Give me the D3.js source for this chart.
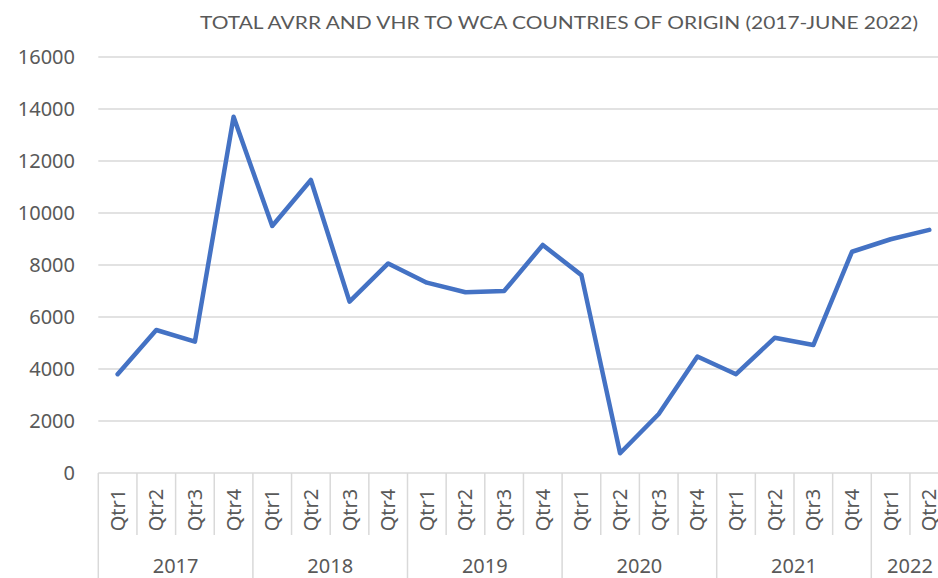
<!DOCTYPE html>
<html>
<head>
<meta charset="utf-8">
<script src="https://cdn.jsdelivr.net/npm/d3@7"></script>
<style>
  body { margin: 0; background: #fff; }
  svg { display: block; font-family: "Noto Sans", "Open Sans", sans-serif; }
</style>
</head>
<body>
<svg width="938" height="578"></svg>
<script>
var years = ["2017", "2018", "2019", "2020", "2021", "2022"];
var quarters = ["Qtr1", "Qtr2", "Qtr3", "Qtr4"];
var periods = [
  "2017-Qtr1", "2017-Qtr2", "2017-Qtr3", "2017-Qtr4",
  "2018-Qtr1", "2018-Qtr2", "2018-Qtr3", "2018-Qtr4",
  "2019-Qtr1", "2019-Qtr2", "2019-Qtr3", "2019-Qtr4",
  "2020-Qtr1", "2020-Qtr2", "2020-Qtr3", "2020-Qtr4",
  "2021-Qtr1", "2021-Qtr2", "2021-Qtr3", "2021-Qtr4",
  "2022-Qtr1", "2022-Qtr2"
];
var returns = [
  3800, 5500, 5050, 13700,
  9500, 11270, 6590, 8060,
  7320, 6950, 7000, 8770,
  7610, 760, 2270, 4480,
  3800, 5200, 4920, 8510,
  8990, 9350
];
var yTicks = [0, 2000, 4000, 6000, 8000, 10000, 12000, 14000, 16000];
var title = "TOTAL AVRR AND VHR TO WCA COUNTRIES OF ORIGIN (2017-JUNE 2022)";

var plotL = 98.3, plotR = 948.6, plotT = 57, plotB = 473;
var grey = "#595959", lineGrey = "#d9d9d9";

var svg = d3.select("svg");

var x = d3.scaleBand().domain(periods).range([plotL, plotR]);
var y = d3.scaleLinear().domain([0, 16000]).range([plotB, plotT]);

// title
svg.append("text")
  .attr("x", 200).attr("y", 29)
  .attr("textLength", 718).attr("lengthAdjust", "spacingAndGlyphs")
  .style("font-family", "Lato, sans-serif")
  .style("font-size", "18px")
  .attr("fill", grey)
  .text(title);

// gridlines
svg.append("g").selectAll("line")
  .data(yTicks.filter(function(d){ return d > 0; }))
  .enter().append("line")
  .attr("x1", plotL).attr("x2", 938)
  .attr("y1", function(d){ return y(d); })
  .attr("y2", function(d){ return y(d); })
  .attr("stroke", lineGrey).attr("stroke-width", 1.5);

// y axis labels
var yAxis = svg.append("g")
  .attr("transform", "translate(75,0)")
  .call(d3.axisLeft(y).tickValues(yTicks).tickSize(0).tickPadding(0).tickFormat(d3.format("d")));
yAxis.select(".domain").remove();
yAxis.selectAll("text")
  .style("font-size", "20px")
  .style("font-family", "'Noto Sans', sans-serif")
  .attr("fill", grey);

// x axis line
svg.append("line")
  .attr("x1", plotL).attr("x2", 938)
  .attr("y1", plotB).attr("y2", plotB)
  .attr("stroke", lineGrey).attr("stroke-width", 1.5);

// quarter separators
svg.append("g").selectAll("line")
  .data(periods)
  .enter().append("line")
  .attr("x1", function(d){ return x(d); })
  .attr("x2", function(d){ return x(d); })
  .attr("y1", plotB)
  .attr("y2", function(d){ return d.slice(5) == "Qtr1" ? 578 : 535; })
  .attr("stroke", lineGrey).attr("stroke-width", 1.5);

// quarter labels
svg.append("g").selectAll("text")
  .data(periods)
  .enter().append("text")
  .attr("transform", function(d){
    return "translate(" + (x(d) + x.bandwidth()/2 + 7) + ",510) rotate(-90)";
  })
  .attr("text-anchor", "middle")
  .style("font-size", "20px")
  .attr("fill", grey)
  .text(function(d){ return d.slice(5); });

// year labels
svg.append("g").selectAll("text")
  .data(years)
  .enter().append("text")
  .attr("x", function(yr){
    var ps = periods.filter(function(p){ return p.slice(0,4) == yr; });
    return (x(ps[0]) + x(ps[ps.length-1]) + x.bandwidth()) / 2;
  })
  .attr("y", 573)
  .attr("text-anchor", "middle")
  .style("font-size", "20px")
  .attr("fill", grey)
  .text(function(d){ return d; });

// line
var line = d3.line()
  .x(function(d, i){ return x(periods[i]) + x.bandwidth()/2; })
  .y(function(d){ return y(d); });

svg.append("path")
  .datum(returns)
  .attr("d", line)
  .attr("fill", "none")
  .attr("stroke", "#4472c4")
  .attr("stroke-width", 4.5)
  .attr("stroke-linejoin", "round")
  .attr("stroke-linecap", "round");
</script>
</body>
</html>
